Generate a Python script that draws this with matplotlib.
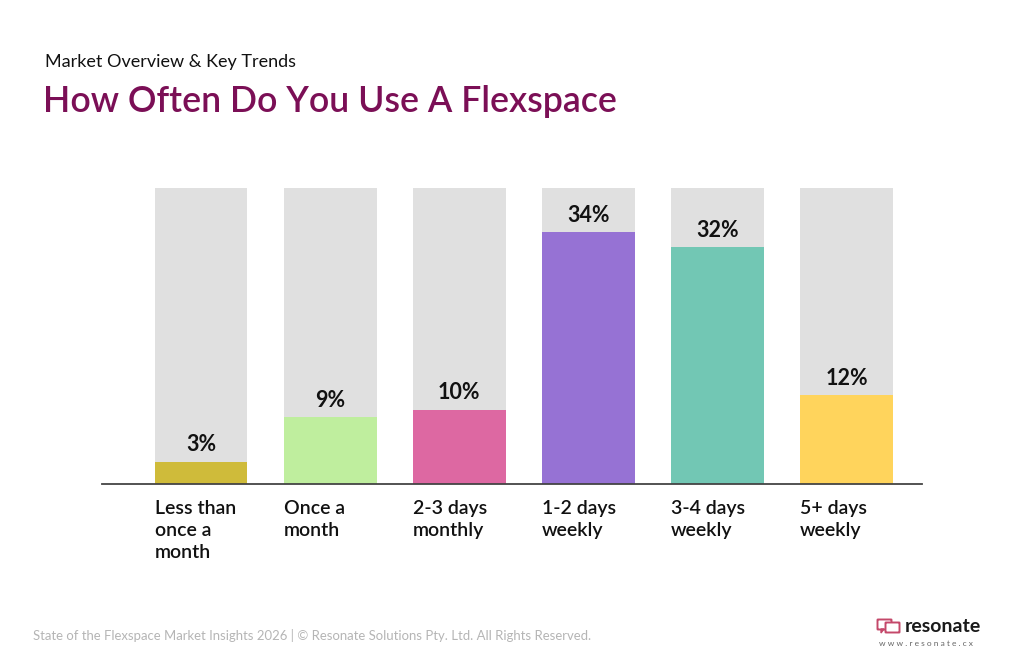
import matplotlib
matplotlib.use("Agg")
import matplotlib.pyplot as plt
from matplotlib.patches import FancyBboxPatch, Polygon

categories = ["Less than\nonce a\nmonth", "Once a\nmonth", "2-3 days\nmonthly",
              "1-2 days\nweekly", "3-4 days\nweekly", "5+ days\nweekly"]
values = [3, 9, 10, 34, 32, 12]
value_labels = ["3%", "9%", "10%", "34%", "32%", "12%"]
bar_colors = ["#cfbb3a", "#bfee9e", "#dd68a2", "#9672d4", "#72c7b4", "#ffd45c"]
bg_max = 40

FONT = ["Lato", "DejaVu Sans"]

fig = plt.figure(figsize=(10.24, 6.68), dpi=100)
fig.patch.set_facecolor("white")

ax = fig.add_axes([102/1024, (668-484)/668, (922-102)/1024, (484-188)/668])
x = list(range(len(values)))
w = 0.72
ax.bar(x, [bg_max]*len(values), width=w, color="#e0e0e0", zorder=1)
ax.bar(x, values, width=w, color=bar_colors, zorder=2)
ax.set_xlim(-0.767, 5.585)
ax.set_ylim(0, bg_max)
for s in ["top", "right", "left"]:
    ax.spines[s].set_visible(False)
ax.spines["bottom"].set_color("#444444")
ax.spines["bottom"].set_linewidth(1.3)
ax.set_yticks([])
ax.set_xticks([])

for xi, v, lab in zip(x, values, value_labels):
    ax.text(xi, v + 0.9, lab, ha="center", va="bottom", fontsize=15.5,
            fontweight="bold", family=FONT, color="#111111", zorder=3)
for xi, c in zip(x, categories):
    ax.text(xi - w/2, -2.1, c, ha="left", va="top", fontsize=14,
            fontweight="semibold", family=FONT, color="#111111",
            linespacing=1.38)

fig.text(45/1024, 1 - 62/668, "Market Overview & Key Trends", fontsize=13,
         family=FONT, color="#111111", va="center", ha="left")
fig.text(43/1024, 1 - 101/668, "How Often Do You Use A Flexspace", fontsize=25.7,
         family=FONT, fontweight="semibold", color="#7b0f56", va="center", ha="left")
fig.text(33/1024, 1 - 636/668,
         "State of the Flexspace Market Insights 2026 | \u00a9 Resonate Solutions Pty. Ltd. All Rights Reserved.",
         fontsize=9.45, family=FONT, color="#b5b5b5", va="center", ha="left")

# logo
fig.text(905/1024, 1 - 626/668, "resonate", fontsize=14, fontweight="bold",
         family=FONT, color="#1a1a1a", va="center", ha="left")
fig.text(879/1024, 1 - 643/668, "w w w . r e s o n a t e . c x", fontsize=6,
         family=FONT, color="#666666", va="center", ha="left")
lax = fig.add_axes([876/1024, 1 - 636/668, 26/1024, 20/668])
lax.set_xlim(0, 26); lax.set_ylim(0, 20); lax.axis("off")
lax.add_patch(FancyBboxPatch((2, 7), 13, 9, boxstyle="round,pad=0.5",
                             fill=False, ec="#c4486a", lw=1.4))
lax.add_patch(FancyBboxPatch((10, 4), 13, 9, boxstyle="round,pad=0.5",
                             fc="white", ec="#c4486a", lw=1.4))
lax.add_patch(Polygon([[5, 7], [5, 3], [8, 7]], closed=True, fc="#c4486a", ec="#c4486a"))

fig.savefig("out.png", dpi=100, facecolor="white")
